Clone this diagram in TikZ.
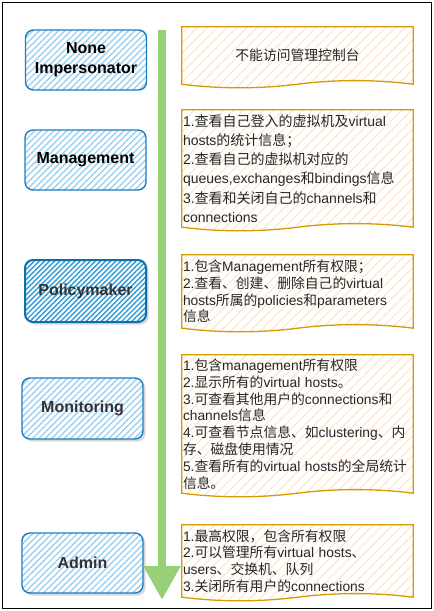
\documentclass[tikz,border=0pt]{standalone}
\usepackage{fontspec}
\setmainfont{Liberation Sans}
\newfontfamily\cjkfont{Noto Sans CJK SC}
\newfontfamily\latinfont{Liberation Sans}
% switch to the CJK font for Chinese characters
\XeTeXinterchartokenstate=1
\newXeTeXintercharclass\cjkclass
\makeatletter
\count@="3000
\loop\XeTeXcharclass\count@=\cjkclass\ifnum\count@<"303F \advance\count@\@ne\repeat
\count@="4E00
\loop\XeTeXcharclass\count@=\cjkclass\ifnum\count@<"9FFF \advance\count@\@ne\repeat
\count@="FF00
\loop\XeTeXcharclass\count@=\cjkclass\ifnum\count@<"FFEF \advance\count@\@ne\repeat
\makeatother
\XeTeXinterchartoks 0 \cjkclass = {\cjkfont}
\XeTeXinterchartoks 4095 \cjkclass = {\cjkfont}
\XeTeXinterchartoks \cjkclass 0 = {\latinfont}
\XeTeXinterchartoks \cjkclass 4095 = {\latinfont}

\usepackage{tikz}
\usetikzlibrary{arrows.meta, patterns.meta, shadows, calc, backgrounds, positioning}

\definecolor{roleblue}{HTML}{1A7DC0}
\definecolor{hatchblue}{HTML}{9DD1F0}
\definecolor{darkhatch}{HTML}{2E9BD6}
\definecolor{darkblue}{HTML}{0E6FAD}
\definecolor{noteorange}{HTML}{D79B00}
\definecolor{hatchorange}{HTML}{FFE3C4}
\definecolor{arrowgreen}{HTML}{97D077}
\definecolor{labelgrey}{HTML}{333333}

% document shape with a wavy bottom behind a note node
\newcommand{\wavenote}[1]{%
  \path[notebox] (#1.north west) -- (#1.north east) -- (#1.south east)
    .. controls ($(#1.south east)!0.1667!(#1.south west)+(0,-4.8)$) and ($(#1.south)!0.3333!(#1.south east)+(0,-4.8)$) .. (#1.south)
    .. controls ($(#1.south)!0.3333!(#1.south west)+(0,4.8)$) and ($(#1.south west)!0.1667!(#1.south east)+(0,4.8)$) .. (#1.south west) -- cycle;}

\begin{document}
\begin{tikzpicture}[x=1pt, y=-1pt,
    role/.style={draw=roleblue, line width=1.4pt, rounded corners=8pt, minimum width=121pt, minimum height=60pt,
      align=center, font=\fontsize{16}{20}\selectfont\bfseries,
      pattern={Lines[angle=45, distance=4.5pt, line width=1.4pt]}, pattern color=hatchblue},
    shaded role/.style={role, text=labelgrey, drop shadow={shadow xshift=2.5pt, shadow yshift=-2.5pt, fill=black!30}, preaction={fill=white}},
    note/.style={minimum width=231pt, inner xsep=1pt, text width=229pt, align=left, text=black!85, font=\fontsize{13.8}{16.8}\selectfont},
    notebox/.style={draw=noteorange, line width=1.3pt,
      pattern={Lines[angle=45, distance=7pt, line width=1pt]}, pattern color=hatchorange},
    timeline/.style={arrowgreen, line width=8.5pt, -{Triangle[width=35pt, length=34pt]}}]
  \useasboundingbox (0,0) rectangle (434,611);
  \draw[line width=1.5pt] (2.5,2.5) rectangle (431.5,608.5);

  % roles
  \node[role] (none) at (86,60) {None\\Impersonator};
  \node[role] (management) at (85.5,160) {Management};
  \node[shaded role, draw=darkblue, line width=2pt, minimum height=62pt,
    pattern={Lines[angle=45, distance=3.6pt, line width=1.4pt]}, pattern color=darkhatch] (policymaker) at (85.5,291) {Policymaker};
  \node[shaded role, minimum height=61pt] (monitoring) at (82.5,408.5) {Monitoring};
  \node[shaded role] (admin) at (82.5,563) {Admin};

  % growing rights
  \coordinate (top) at (162,30);
  \coordinate (tip) at (162,600);
  \draw[timeline] (top) -- (tip);

  % rights of each role
  \node[note, minimum height=57pt, align=center] (rights1) at (297.5,55.5) {不能访问管理控制台};
  \node[note, minimum height=117pt, font=\fontsize{14}{19.2}\selectfont] (rights2) at (297.5,168.5)
    {1.查看自己登入的虚拟机及virtual\\hosts的统计信息；\\2.查看自己的虚拟机对应的\\queues,exchanges和bindings信息\\3.查看和关闭自己的channels和\\connections};
  \node[note, minimum height=73pt] (rights3) at (297.5,291.5)
    {1.包含Management所有权限；\\2.查看、创建、删除自己的virtual\\hosts所属的policies和parameters\\信息};
  \node[note, minimum height=138pt] (rights4) at (297.5,424)
    {1.包含management所有权限\\2.显示所有的virtual hosts。\\3.可查看其他用户的connections和\\channels信息\\4.可查看节点信息、如clustering、内\\存、磁盘使用情况\\5.查看所有的virtual~hosts的全局统计\\信息。};
  \node[note, minimum height=72pt] (rights5) at (297.5,561)
    {1.最高权限，包含所有权限\\2.可以管理所有virtual hosts、\\users、交换机、队列\\3.关闭所有用户的connections};

  \begin{pgfonlayer}{background}
    \wavenote{rights1}
    \wavenote{rights2}
    \wavenote{rights3}
    \wavenote{rights4}
    \wavenote{rights5}
  \end{pgfonlayer}
\end{tikzpicture}
\end{document}
